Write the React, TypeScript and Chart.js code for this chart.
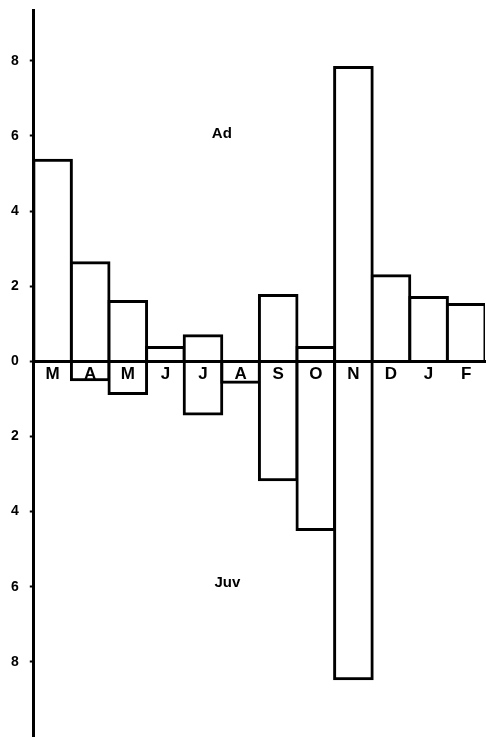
import React, { useEffect, useRef } from 'react';
import { Chart, registerables } from 'chart.js';

Chart.register(...registerables);

// Monthly values, March to February
const months = ['M', 'A', 'M', 'J', 'J', 'A', 'S', 'O', 'N', 'D', 'J', 'F'];
// Adults plotted above the zero line
const adults = [5.35, 2.62, 1.59, 0.37, 0.68, 0, 1.75, 0.37, 7.82, 2.28, 1.7, 1.51];
// Juveniles plotted below the zero line
const juveniles = [0, -0.49, -0.86, 0, -1.4, -0.56, -3.15, -4.48, -8.45, 0, 0, 0];
// Tick values shown on the vertical axis (drawn as absolute values)
const yTickValues = [-8, -6, -4, -2, 0, 2, 4, 6, 8];
// Panel captions: [text, category position, value]
const captions: [string, number, number][] = [
  ['Ad', 4.5, 6.05],
  ['Juv', 4.65, -5.9],
];

const FONT = '"Liberation Sans", Arial, sans-serif';
const LINE = 3;

const captionPlugin = {
  id: 'captions',
  afterDatasetsDraw(chart: Chart) {
    const { ctx } = chart;
    const x = chart.scales.x;
    const y = chart.scales.y;
    ctx.save();
    ctx.fillStyle = '#000';
    ctx.font = `bold 15px ${FONT}`;
    ctx.textAlign = 'center';
    ctx.textBaseline = 'middle';
    for (const [text, cx, cy] of captions) {
      ctx.fillText(text, x.getPixelForValue(cx), y.getPixelForValue(cy));
    }
    ctx.restore();
  },
};

export default function App() {
  const canvasRef = useRef<HTMLCanvasElement | null>(null);

  useEffect(() => {
    const canvas = canvasRef.current;
    if (!canvas) return;
    const barStyle = {
      backgroundColor: '#fff',
      borderColor: '#000',
      borderWidth: LINE,
      inflateAmount: LINE / 2,
      barPercentage: 1,
      categoryPercentage: 1,
    };
    const chart = new Chart(canvas, {
      type: 'bar',
      data: {
        labels: months,
        datasets: [
          { label: 'Ad', data: adults, ...barStyle },
          { label: 'Juv', data: juveniles, ...barStyle },
        ],
      },
      options: {
        responsive: false,
        animation: false,
        layout: { padding: { left: 0, right: 1, top: 10, bottom: 0 } },
        plugins: {
          legend: { display: false },
          tooltip: { enabled: false },
        },
        scales: {
          x: {
            stacked: true,
            position: { y: 0 } as any,
            afterFit: (scale: any) => {
              scale.height = 0;
            },
            grid: { display: false },
            border: { display: true, color: '#000', width: LINE, z: 1 },
            ticks: {
              color: '#000',
              font: { family: FONT, size: 17, weight: 'bold' },
              padding: -5,
              z: 1,
              maxRotation: 0,
              autoSkip: false,
            },
          },
          y: {
            stacked: true,
            min: -10,
            max: 9.35,
            afterBuildTicks: (scale: any) => {
              scale.ticks = yTickValues.map((v) => ({ value: v }));
            },
            afterFit: (scale: any) => {
              scale.paddingTop = 0;
              scale.paddingBottom = 0;
            },
            grid: {
              drawOnChartArea: false,
              drawTicks: true,
              tickLength: 4,
              tickWidth: 2,
              tickColor: '#000',
            },
            border: { display: true, color: '#000', width: LINE, z: 1 },
            ticks: {
              color: '#000',
              font: { family: FONT, size: 14, weight: 'bold' },
              padding: 11,
              callback: (v: any) => String(Math.abs(Number(v))),
            },
          },
        },
      },
      plugins: [captionPlugin],
    });
    return () => chart.destroy();
  }, []);

  return (
    <div style={{ position: 'absolute', left: 0, top: 0, width: 486, height: 737, background: '#fff' }}>
      <canvas ref={canvasRef} width={486} height={737} style={{ display: 'block' }} />
    </div>
  );
}
